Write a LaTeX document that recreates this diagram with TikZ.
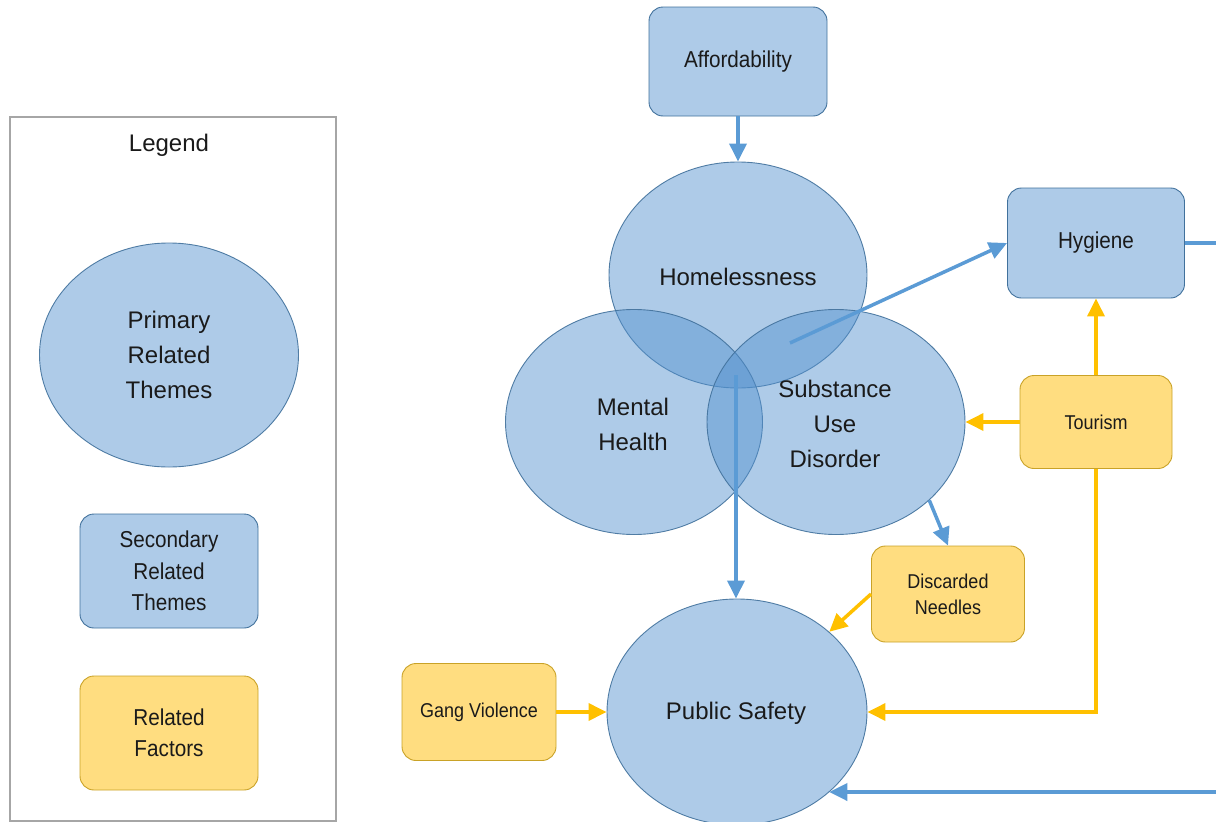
\documentclass[tikz,border=0pt]{standalone}
\usepackage{fontspec}
\setmainfont{Liberation Sans}
\newfontfamily\narrowsans[FakeStretch=0.9]{Liberation Sans}
\usetikzlibrary{shapes.geometric,arrows.meta}
\definecolor{themefill}{HTML}{5391CE}
\definecolor{themeline}{HTML}{41719C}
\definecolor{boxfill}{HTML}{AECBE8}
\definecolor{factfill}{HTML}{FFDD80}
\definecolor{factline}{HTML}{C9A227}
\definecolor{bluearrow}{HTML}{5B9BD5}
\definecolor{yellowarrow}{HTML}{FFC000}
\definecolor{legendline}{HTML}{A6A6A6}
\definecolor{txt}{HTML}{1A1A1A}
\begin{document}
\begin{tikzpicture}[x=1pt,y=-1pt,
  primary/.style={ellipse, fill=themefill, fill opacity=0.47, text opacity=1,
    draw=themeline, draw opacity=0.9, line width=0.9pt, inner sep=0pt, align=center,
    text=txt, font=\fontsize{24}{35}\selectfont},
  secondary/.style={rectangle, rounded corners=14pt, fill=boxfill, draw=themeline,
    line width=0.9pt, inner sep=0pt, align=center, text=txt,
    font=\narrowsans\fontsize{23}{31.5}\selectfont},
  factor/.style={rectangle, rounded corners=14pt, fill=factfill, draw=factline,
    line width=0.9pt, inner sep=0pt, align=center, text=txt,
    font=\narrowsans\fontsize{20}{26}\selectfont},
  bluelink/.style={draw=bluearrow, line width=3.5pt, -{Triangle[length=18pt,width=17pt]}},
  bluerun/.style={draw=bluearrow, line width=3.5pt},
  yellowlink/.style={draw=yellowarrow, line width=3.5pt, -{Triangle[length=18pt,width=17pt]}},
  legendframe/.style={draw=legendline, line width=2pt}
]
\useasboundingbox (0,0) rectangle (1216,822);

% Legend
\draw[legendframe] (10,117) rectangle (336,821);
\node[text=txt, font=\fontsize{24}{30}\selectfont] (legtitle) at (169,145) {Legend};
\node[primary, minimum width=259pt, minimum height=224pt] (legprim) at (169,355) {Primary\\Related\\Themes};
\node[secondary, minimum width=178pt, minimum height=114pt] (legsec) at (169,571) {Secondary\\Related\\Themes};
\node[factor, minimum width=178pt, minimum height=114pt, font=\narrowsans\fontsize{23}{31.5}\selectfont] (legfac) at (169,733) {Related\\Factors};

% Primary themes
\node[primary, minimum width=258pt, minimum height=226pt] (home) at (738,275) {};
\node[primary, minimum width=257pt, minimum height=225pt] (mh) at (634,422) {};
\node[primary, minimum width=258pt, minimum height=225pt] (sud) at (836,422) {};
\node[primary, minimum width=260pt, minimum height=226pt] (ps) at (737,712) {};
\node[text=txt, font=\fontsize{24}{35}\selectfont] (homet) at (738,277) {Homelessness};
\node[text=txt, font=\fontsize{24}{35}\selectfont, align=center] (mht) at (633,424) {Mental\\Health};
\node[text=txt, font=\fontsize{24}{35}\selectfont, align=center] (sudt) at (835,424) {Substance\\Use\\Disorder};
\node[text=txt, font=\fontsize{24}{35}\selectfont] (pst) at (736,713) {Public Safety};

% Secondary themes
\node[secondary, minimum width=178pt, minimum height=109pt] (aff) at (738,61.5) {Affordability};
\node[secondary, minimum width=177pt, minimum height=110pt] (hyg) at (1096,243) {Hygiene};

% Factors
\node[factor, minimum width=152pt, minimum height=93pt] (tour) at (1096,422) {Tourism};
\node[factor, minimum width=153pt, minimum height=96pt] (dn) at (948,594) {Discarded\\Needles};
\node[factor, minimum width=154pt, minimum height=97pt] (gang) at (479,712) {Gang Violence};

% Connectors
\coordinate (hstart) at (736,375);
\coordinate (sstart) at (790,343);
\coordinate (redgeA) at (1216,243);
\coordinate (redgeB) at (1216,792);

\draw[bluelink] (aff.south) -- (home.north);
\draw[bluelink] (hstart) -- (hstart |- ps.north);
\draw[bluelink] (sstart) -- (hyg.west);
\draw[bluelink] (sud.-40) -- (dn.north);
\draw[bluerun] (hyg.east) -- (redgeA);
\draw[bluelink] (redgeB) -- (ps.-41 |- redgeB);

\draw[yellowlink] (tour.north) -- (hyg.south);
\draw[yellowlink] (tour.west) -- (sud.east);
\draw[yellowlink] (tour.south) |- (ps.east);
\draw[yellowlink] (dn.west) -- (ps.41);
\draw[yellowlink] (gang.east) -- (ps.west);
\end{tikzpicture}
\end{document}
